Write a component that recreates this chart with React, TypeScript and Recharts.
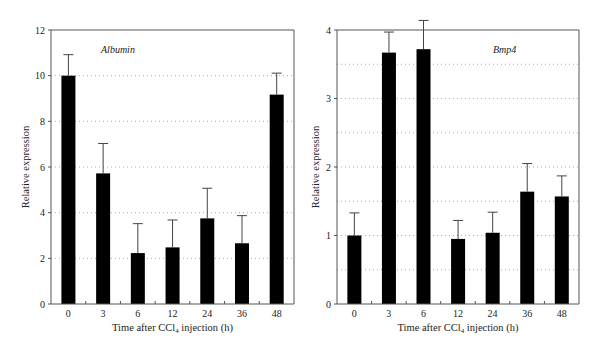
import React from 'react';
import { BarChart, Bar, XAxis, YAxis, CartesianGrid, ReferenceLine } from 'recharts';

// time points (h)
const timePoints = ['0', '3', '6', '12', '24', '36', '48'];

const albuminMean = [10.0, 5.72, 2.23, 2.48, 3.75, 2.66, 9.17];
const albuminErr = [0.92, 1.31, 1.29, 1.2, 1.32, 1.21, 0.94];

const bmp4Mean = [1.0, 3.67, 3.72, 0.95, 1.04, 1.64, 1.57];
const bmp4Err = [0.33, 0.3, 0.42, 0.27, 0.3, 0.41, 0.3];

const albuminTicks = [0, 2, 4, 6, 8, 10, 12];
const albuminGrid = [2, 4, 6, 8, 10];
const bmp4Ticks = [0, 1, 2, 3, 4];
const bmp4Grid = [0.5, 1, 1.5, 2, 2.5, 3, 3.5];

const FONT = '"Liberation Serif", "DejaVu Serif", serif';
const FRAME = '#555';

const buildRows = (mean: number[], err: number[]) =>
	timePoints.map((t, i) => ({ time: t, value: mean[i], err: err[i] }));

// bar + upper whisker only (whisker may poke above the frame, like the original)
const BarWithWhisker = (props: any) => {
	const { x, y, width, height, payload } = props;
	const pxPerUnit = height / payload.value;
	const top = y - payload.err * pxPerUnit;
	const cx = x + width / 2;
	return (
		<g>
			<rect x={x} y={y} width={width} height={height} fill="#000" />
			<line x1={cx} x2={cx} y1={y} y2={top} stroke="#444" strokeWidth={1} />
			<line x1={cx - 5} x2={cx + 5} y1={top} y2={top} stroke="#444" strokeWidth={1} />
		</g>
	);
};

const CatTick = (props: any) => {
	const { x, y, payload } = props;
	const off = payload.offset || 0;
	return (
		<g>
			{payload.index > 0 && (
				<line x1={x - off} x2={x - off} y1={y} y2={y - 3} stroke={FRAME} strokeWidth={1} />
			)}
			<text x={x} y={y + 13} textAnchor="middle" fontFamily={FONT} fontSize={10} fill="#222">
				{payload.value}
			</text>
		</g>
	);
};

const XTitle = (props: any) => {
	const { viewBox } = props;
	const cx = viewBox.x + viewBox.width / 2;
	return (
		<text x={cx} y={viewBox.y + 27} textAnchor="middle" fontFamily={FONT} fontSize={10.5} fill="#222">
			Time after CCl<tspan fontSize={7} dy={2}>4</tspan>
			<tspan dy={-2}> injection (h)</tspan>
		</text>
	);
};

const YTitle = (xPos: number) => (props: any) => {
	const { viewBox } = props;
	const cy = viewBox.y + viewBox.height / 2;
	return (
		<text
			x={xPos}
			y={cy}
			transform={`rotate(-90 ${xPos} ${cy})`}
			textAnchor="middle"
			fontFamily={FONT}
			fontSize={10.5}
			fill="#222"
		>
			Relative expression
		</text>
	);
};

type PanelProps = {
	mean: number[];
	err: number[];
	ticks: number[];
	grid: number[];
	max: number;
	title: string;
	titleX: number;
	yWidth: number;
	rightMargin: number;
	yTitleX: number;
};

const Panel: React.FC<PanelProps> = ({ mean, err, ticks, grid, max, title, titleX, yWidth, rightMargin, yTitleX }) => {
	const rows = buildRows(mean, err);
	const last = timePoints[timePoints.length - 1];
	return (
		<div style={{ position: 'relative', width: 300, height: 354 }}>
			<BarChart
				width={300}
				height={354}
				data={rows}
				margin={{ top: 30, right: rightMargin, bottom: 20, left: 0 }}
				barCategoryGap="30%"
			>
				<CartesianGrid
					vertical={false}
					horizontalValues={grid}
					stroke="#aaa"
					strokeDasharray="1 3"
				/>
				<XAxis
					dataKey="time"
					height={30}
					tickSize={0}
					tickMargin={0}
					tickLine={false}
					axisLine={{ stroke: FRAME }}
					tick={<CatTick />}
					interval={0}
					label={<XTitle />}
				/>
				<YAxis
					width={yWidth}
					domain={[0, max]}
					ticks={ticks}
					interval={0}
					tickSize={3}
					tickMargin={3}
					tickLine={{ stroke: FRAME }}
					axisLine={{ stroke: FRAME }}
					tick={{ fontFamily: FONT, fontSize: 10, fill: '#222' }}
					label={{ content: YTitle(yTitleX) } as any}
				/>
				<ReferenceLine y={max} stroke={FRAME} />
				<ReferenceLine x={last} position="end" stroke={FRAME} />
				<Bar dataKey="value" fill="#000" isAnimationActive={false} shape={<BarWithWhisker />} />
			</BarChart>
			<div
				style={{
					position: 'absolute',
					left: titleX,
					top: 44,
					fontFamily: FONT,
					fontStyle: 'italic',
					fontSize: 10,
					color: '#222',
				}}
			>
				{title}
			</div>
		</div>
	);
};

export default function App() {
	return (
		<div style={{ position: 'absolute', left: 0, top: 0, width: 600, height: 354, display: 'flex', background: '#fff' }}>
			<Panel
				mean={albuminMean}
				err={albuminErr}
				ticks={albuminTicks}
				grid={albuminGrid}
				max={12}
				title="Albumin"
				titleX={101}
				yWidth={51}
				rightMargin={6}
				yTitleX={29}
			/>
			<Panel
				mean={bmp4Mean}
				err={bmp4Err}
				ticks={bmp4Ticks}
				grid={bmp4Grid}
				max={4}
				title="Bmp4"
				titleX={193}
				yWidth={37}
				rightMargin={21}
				yTitleX={19}
			/>
		</div>
	);
}
